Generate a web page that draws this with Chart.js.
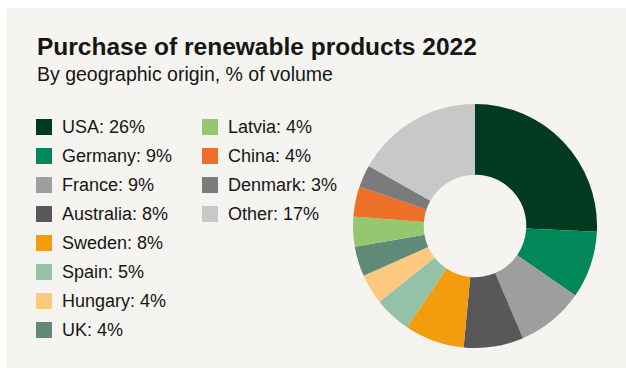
<!DOCTYPE html>
<html>
<head>
<meta charset="utf-8">
<script src="https://cdn.jsdelivr.net/npm/chart.js@4/dist/chart.umd.min.js"></script>
<style>
  html, body { margin: 0; padding: 0; background: #ffffff; }
  body { width: 626px; height: 368px; position: relative; overflow: hidden;
         font-family: "Liberation Sans", Arial, sans-serif; color: #161616; }
  #panel { position: absolute; left: 6px; top: 8px; width: 620px; height: 360px; background: #f5f4f0; }
  #title { position: absolute; left: 37px; top: 35px; font-size: 24.5px; font-weight: bold; line-height: 24.5px; white-space: nowrap; }
  #subtitle { position: absolute; left: 37px; top: 64.5px; font-size: 19.5px; line-height: 19.5px; white-space: nowrap; }
  .row { position: absolute; height: 16px; display: flex; align-items: center; white-space: nowrap; font-size: 18px; line-height: 18px; }
  .sw { width: 16px; height: 16px; margin-right: 10px; flex: none; }
  #wrap { position: absolute; left: 353px; top: 103.5px; width: 244px; height: 244px; }
</style>
</head>
<body>
<div id="panel"></div>
<div id="title">Purchase of renewable products 2022</div>
<div id="subtitle">By geographic origin, % of volume</div>
<div id="legend"></div>
<div id="wrap"><canvas id="c" width="244" height="244"></canvas></div>
<script>
const categories = ["USA", "Germany", "France", "Australia", "Sweden", "Spain", "Hungary", "UK", "Latvia", "China", "Denmark", "Other"];
const shares = [26, 9, 9, 8, 8, 5, 4, 4, 4, 4, 3, 17];
const colors = ["#003a21", "#00875a", "#9d9e9d", "#585858", "#f39c0e", "#95c1a7", "#fdc880", "#5f8a78", "#94c76f", "#ee7028", "#7b7b7b", "#c7c8c7"];

// HTML legend built from the arrays
const legend = document.getElementById('legend');
categories.forEach((name, i) => {
  const col = i < 8 ? 0 : 1;
  const rowIdx = i < 8 ? i : i - 8;
  const row = document.createElement('div');
  row.className = 'row';
  row.style.left = (col === 0 ? 36 : 202) + 'px';
  row.style.top = (119 + rowIdx * 29) + 'px';
  const sw = document.createElement('div');
  sw.className = 'sw';
  sw.style.background = colors[i];
  const tx = document.createElement('span');
  tx.textContent = name + ': ' + shares[i] + '%';
  row.appendChild(sw);
  row.appendChild(tx);
  legend.appendChild(row);
});

new Chart(document.getElementById('c'), {
  type: 'doughnut',
  data: {
    labels: categories,
    datasets: [{
      data: shares,
      backgroundColor: colors,
      borderWidth: 0
    }]
  },
  options: {
    responsive: false,
    animation: false,
    cutout: '42%',
    layout: { padding: 0 },
    plugins: { legend: { display: false }, tooltip: { enabled: false }, title: { display: false } }
  }
});
</script>
</body>
</html>
